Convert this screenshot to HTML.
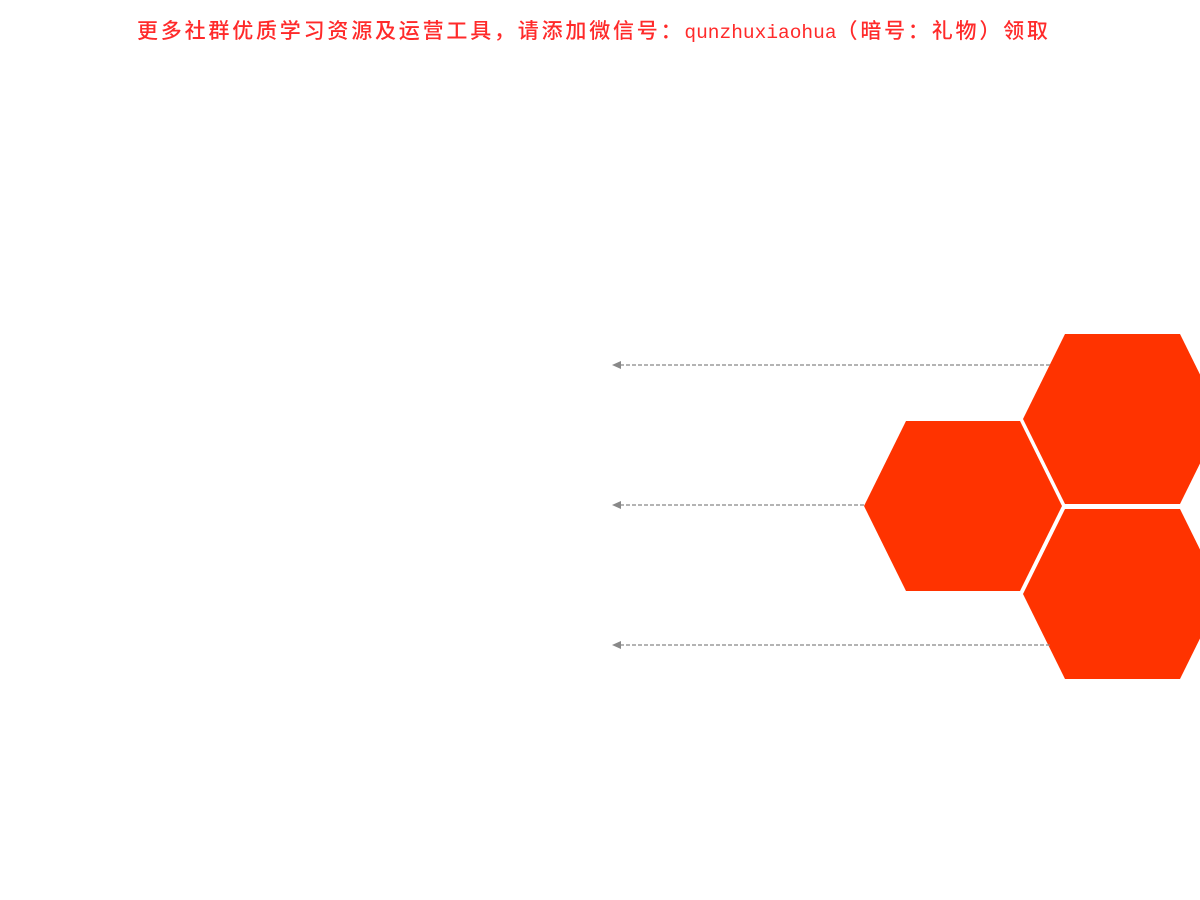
<!DOCTYPE html>
<html><head><meta charset="utf-8"><style>
html,body{margin:0;padding:0;background:#fff;width:1200px;height:900px;overflow:hidden;position:relative}
.t{position:absolute;left:137px;top:15px;color:#ff2a2a;font-size:21px;letter-spacing:2.8px;white-space:nowrap;font-family:"Noto Sans CJK SC",sans-serif;line-height:30px;font-weight:500}
.m{font-family:"Liberation Mono","Noto Sans CJK SC",monospace;font-size:19.5px;letter-spacing:0}
</style></head><body>
<div class="t">更多社群优质学习资源及运营工具，请添加微信号：<span class="m">qunzhuxiaohua</span>（暗号：礼物）领取</div>
<svg width="1200" height="900" style="position:absolute;left:0;top:0">
<g fill="#ff3300">
<polygon points="1065,334 1180,334 1222,419 1180,504 1065,504 1023,419"/>
<polygon points="906,421 1020,421 1062,506 1020,591 906,591 864,506"/>
<polygon points="1065,509 1180,509 1222,594 1180,679 1065,679 1023,594"/>
</g>
<g stroke="#888" stroke-width="1.2" stroke-dasharray="4,2" fill="none">
<line x1="620" y1="365" x2="1050" y2="365"/>
<line x1="620" y1="505" x2="864" y2="505"/>
<line x1="620" y1="645" x2="1050" y2="645"/>
</g>
<g fill="#888">
<polygon points="612,365 621,361 621,369"/>
<polygon points="612,505 621,501 621,509"/>
<polygon points="612,645 621,641 621,649"/>
</g>
</svg>
</body></html>
